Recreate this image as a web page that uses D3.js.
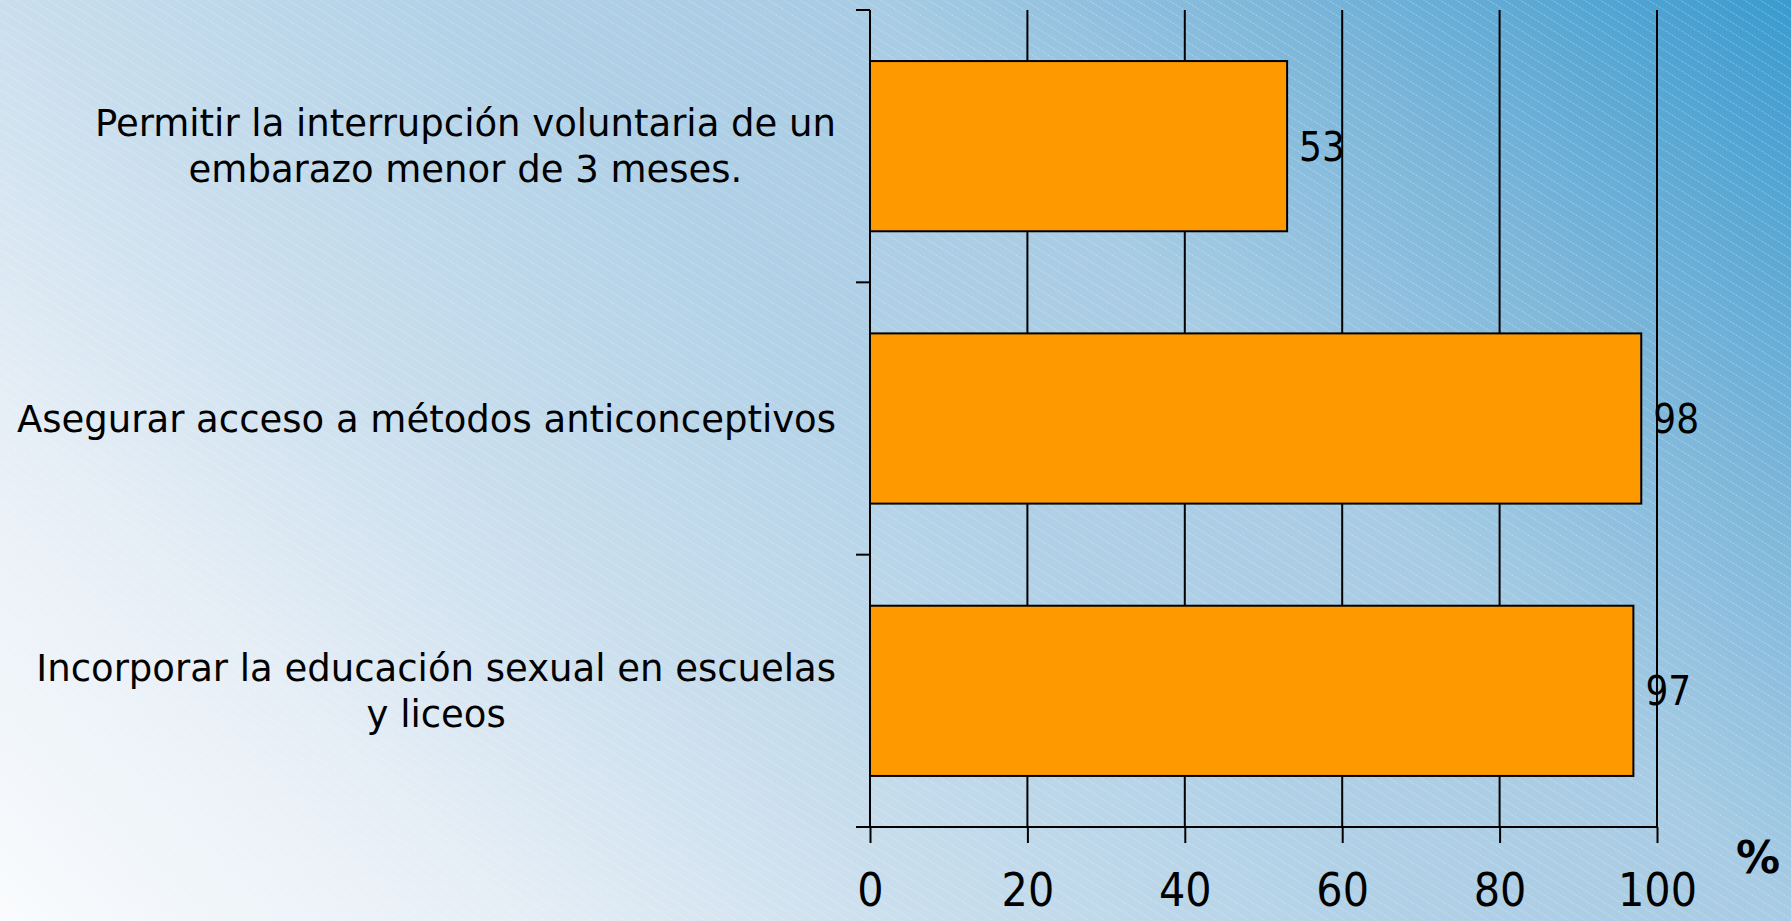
<!DOCTYPE html>
<html><head><meta charset="utf-8">
<script src="https://cdn.jsdelivr.net/npm/d3@7/dist/d3.min.js"></script>
<style>html,body{margin:0;padding:0;overflow:hidden;}</style>
</head><body>
<script>
const categories = [
  ["Permitir la interrupción voluntaria de un", "embarazo menor de 3 meses."],
  ["Asegurar acceso a métodos anticonceptivos"],
  ["Incorporar la educación sexual en escuelas", "y liceos"]
];
const values = [53, 98, 97];
const xTicks = [0, 20, 40, 60, 80, 100];
const unitLabel = "%";

const W = 1791, H = 921;
const m = {left: 870, right: 1657, top: 10, bottom: 827};
const svg = d3.select("body").append("svg").attr("width", W).attr("height", H);
const defs = svg.append("defs");
const grad = defs.append("linearGradient").attr("id", "bg")
  .attr("gradientUnits", "userSpaceOnUse")
  .attr("x1", 1791).attr("y1", 0).attr("x2", 435).attr("y2", 1356);
[[0, "#3a9bcf"], [0.181, "#7ab5d9"], [0.34, "#a8cce4"], [0.476, "#b0d0e6"],
 [0.66, "#c9deed"], [0.81, "#e6eef6"], [1, "#f9fbfd"]].forEach(([o, c]) =>
  grad.append("stop").attr("offset", o).attr("stop-color", c));
const pat = defs.append("pattern").attr("id", "hatch").attr("patternUnits", "userSpaceOnUse")
  .attr("width", 16).attr("height", 10);
pat.append("path").attr("d", "M-16,-10 L32,20 M-16,0 L16,20 M0,-10 L32,10")
  .attr("stroke", "#ffffff").attr("stroke-opacity", 0.35).attr("stroke-width", 1)
  .attr("stroke-dasharray", "2,1.5");

svg.append("rect").attr("width", W).attr("height", H).attr("fill", "url(#bg)");
svg.append("rect").attr("width", W).attr("height", H).attr("fill", "url(#hatch)");

const x = d3.scaleLinear().domain([0, 100]).range([m.left, m.right]);
const y = d3.scaleBand().domain(d3.range(categories.length)).range([m.top, m.bottom])
  .paddingInner(0.375).paddingOuter(0.1875);

// gridlines
svg.append("g").selectAll("line").data(xTicks.filter(d => d > 0)).join("line")
  .attr("x1", d => x(d)).attr("x2", d => x(d)).attr("y1", m.top).attr("y2", m.bottom)
  .attr("stroke", "#000").attr("stroke-width", 2);

// bars
svg.append("g").selectAll("rect").data(values).join("rect")
  .attr("x", x(0)).attr("y", (d, i) => y(i))
  .attr("width", d => x(d) - x(0)).attr("height", y.bandwidth())
  .attr("fill", "#ff9900").attr("stroke", "#000").attr("stroke-width", 2);

// value labels
svg.append("g").selectAll("text").data(values).join("text")
  .attr("x", d => x(d) + 12).attr("y", (d, i) => y(i) + y.bandwidth() / 2)
  .attr("dy", "0.36em")
  .attr("font-family", "'DejaVu Sans Condensed', 'DejaVu Sans', sans-serif")
  .attr("font-size", 40).attr("fill", "#000").text(d => d);

// x axis
const xAxis = d3.axisBottom(x).tickValues(xTicks).tickSize(16).tickSizeOuter(0).tickPadding(30);
const gx = svg.append("g").attr("transform", `translate(0,${m.bottom})`).call(xAxis);
gx.select(".domain").attr("d", `M${m.left - 14},0H${m.right}`).attr("stroke", "#000").attr("stroke-width", 2);
gx.selectAll(".tick line").attr("stroke", "#000").attr("stroke-width", 2);
gx.selectAll(".tick text").attr("font-family", "'DejaVu Sans Condensed', 'DejaVu Sans', sans-serif")
  .attr("font-size", 46).attr("fill", "#000");

// y axis line + boundary ticks
const bounds = d3.range(categories.length + 1).map(i => m.top + i * (m.bottom - m.top) / categories.length);
svg.append("line").attr("x1", m.left).attr("x2", m.left).attr("y1", m.top).attr("y2", m.bottom)
  .attr("stroke", "#000").attr("stroke-width", 2);
svg.append("g").selectAll("line").data(bounds).join("line")
  .attr("x1", m.left - 14).attr("x2", m.left).attr("y1", d => d).attr("y2", d => d)
  .attr("stroke", "#000").attr("stroke-width", 2);

// category labels
const labelRight = 836, lineH = 46;
const lg = svg.append("g").attr("font-family", "'DejaVu Sans', sans-serif")
  .attr("font-size", 37).attr("fill", "#000");
categories.forEach((lines, i) => {
  const cy = y(i) + y.bandwidth() / 2;
  const texts = lines.map((t, k) => lg.append("text").text(t)
    .attr("y", cy + (k - (lines.length - 1) / 2) * lineH).attr("dy", "0.36em")
    .attr("text-anchor", "middle"));
  const maxW = d3.max(texts, t => t.node().getComputedTextLength());
  texts.forEach(t => t.attr("x", labelRight - maxW / 2));
});

svg.append("text").attr("x", 1758).attr("y", 873).attr("text-anchor", "middle")
  .attr("font-family", "'DejaVu Sans', sans-serif").attr("font-weight", "bold")
  .attr("font-size", 44).attr("fill", "#000").text(unitLabel);
</script>
</body></html>
